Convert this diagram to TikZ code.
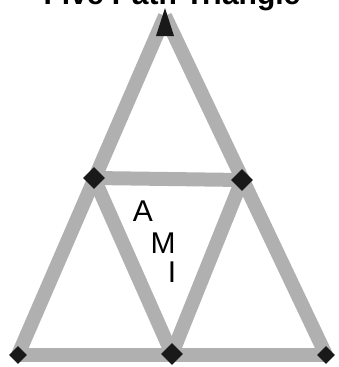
\documentclass[tikz,border=0pt]{standalone}
\usepackage{fontspec}
\setmainfont{Liberation Sans}
\usetikzlibrary{shapes.geometric}
\begin{document}
\begin{tikzpicture}[x=1pt,y=-1pt,
  bar/.style={line width=14pt,draw=gray!62,line join=miter},
  joint/.style={fill=black!90,draw=none,minimum size=22pt,inner sep=0pt,shape=diamond},
  lbl/.style={font=\fontsize{30}{33}\selectfont,inner sep=0pt}]
\useasboundingbox (0,0) rectangle (338,367);
\clip (0,0) rectangle (338,367);
\node[font=\bfseries\fontsize{30}{32}\selectfont,anchor=base,inner sep=0pt] (title) at (172,4) {Five Path Triangle};
\coordinate (A) at (165,16);
\coordinate (B) at (18,355);
\coordinate (C) at (326,355);
\coordinate (L) at (94,178);
\coordinate (R) at (242,180);
\coordinate (M) at (172,354);
\draw[bar] (A) -- (B);
\draw[bar] (A) -- (C);
\draw[bar] (B) -- (C);
\draw[bar] (L) -- (R);
\draw[bar] (L) -- (M);
\draw[bar] (R) -- (M);
\fill[black!90] (A) ++(0,-8) -- ++(-9,28) -- ++(18,0) -- cycle;
\node[joint] (jL) at (L) {};
\node[joint] (jR) at (R) {};
\node[joint] (jM) at (M) {};
\node[joint,minimum size=18pt] (jB) at (B) {};
\node[joint,minimum size=18pt] (jC) at (C) {};
\node[lbl] (a) at (143,211) {A};
\node[lbl] (m) at (163,243) {M};
\node[lbl] (i) at (172,272) {I};
\end{tikzpicture}
\end{document}
